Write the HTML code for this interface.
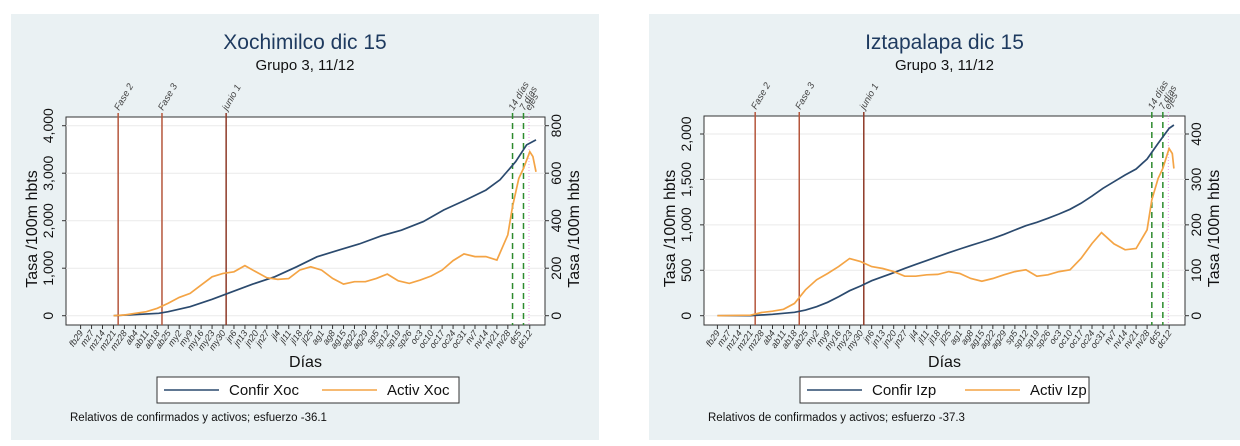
<!DOCTYPE html>
<html><head><meta charset="utf-8"><style>
html,body{margin:0;padding:0;background:#fff;width:1240px;height:446px;overflow:hidden;font-family:"Liberation Sans",sans-serif;}
svg text{font-family:"Liberation Sans",sans-serif;}
</style></head><body>
<svg id="chart" width="1240" height="446" viewBox="0 0 1240 446" xmlns="http://www.w3.org/2000/svg"></svg>
<script>
const tickLabels = ["fb29","mz7","mz14","mz21","mz28","ab4","ab11","ab18","ab25","my2","my9","my16","my23","my30","jn6","jn13","jn20","jn27","jl4","jl11","jl18","jl25","ag1","ag8","ag15","ag22","ag29","sp5","sp12","sp19","sp26","oc3","oc10","oc17","oc24","oc31","nv7","nv14","nv21","nv28","dc5","dc12"];

// Xochimilco
const xocConfDays = [21,50,56,70,84,97,110,124,138,151,165,178,192,205,219,232,246,259,268,278,285,291];
const xocConfVals = [0,50,85,190,345,505,665,820,1030,1240,1380,1510,1680,1800,1980,2225,2435,2645,2860,3245,3595,3700];
const xocActDays = [21,28,35,42,49,56,63,70,77,84,91,98,105,112,119,126,133,140,147,154,161,168,175,182,189,196,203,210,217,224,231,238,245,252,259,266,273,276,280,283,287,289,291];
const xocActVals = [0,3,10,17,31,52,77,94,129,164,178,185,211,185,160,153,156,192,206,192,157,133,143,143,157,175,147,136,150,167,192,232,260,249,249,234,340,459,578,620,690,670,606];
const xocLeftTicks = [0,1000,2000,3000,4000];
const xocLeftLabels = ["0","1,000","2,000","3,000","4,000"];
const xocRightTicks = [0,200,400,600,800];

// Iztapalapa
const izpConfDays = [0,21,35,49,56,63,70,77,84,91,98,105,112,119,126,133,140,147,154,161,168,175,182,189,196,203,210,217,224,231,238,245,252,259,266,273,280,287,290];
const izpConfVals = [0,0,15,37,62,99,147,209,275,327,385,429,473,521,565,606,650,694,734,774,811,851,895,943,991,1028,1072,1119,1171,1237,1317,1402,1475,1549,1615,1725,1897,2062,2099];
const izpActDays = [0,21,28,35,42,49,56,63,70,77,84,91,98,105,112,119,126,133,140,147,154,161,168,175,182,189,196,203,210,217,224,231,238,244,252,259,266,273,276,280,283,287,289,290];
const izpActVals = [0,1,7,10,14,27,57,79,93,108,126,119,108,104,97,87,87,90,91,97,93,82,76,82,90,97,101,87,90,97,101,126,159,183,158,145,148,189,255,302,324,368,357,324];
const izpLeftTicks = [0,500,1000,1500,2000];
const izpLeftLabels = ["0","500","1,000","1,500","2,000"];
const izpRightTicks = [0,100,200,300,400];

const events = [
  {name:"Fase 2", day:24, color:"#b5563c", dash:null},
  {name:"Fase 3", day:52, color:"#b5563c", dash:null},
  {name:"junio 1", day:93, color:"#8e3a28", dash:null},
  {name:"14 días", day:276, color:"#2e8b2e", dash:"6,4"},
  {name:"7 días", day:283, color:"#2e8b2e", dash:"6,4"},
  {name:"ejes", day:286.5, color:"#f0a0e8", dash:"1,2"}
];

const NS="http://www.w3.org/2000/svg";
const svg=document.getElementById('chart');
function mk(tag,attrs,parent){const e=document.createElementNS(NS,tag);for(const k in attrs)e.setAttribute(k,attrs[k]);(parent||svg).appendChild(e);return e;}

function panel(cfg){
  const g=mk('g',{});
  
  
  const bg=mk('rect',{x:cfg.px,y:14,width:cfg.pw,height:426,fill:"#eaf1f3"},g);
  
  
  const cx=cfg.px+cfg.pw/2;
  const t=mk('text',{x:cx,y:49,"text-anchor":"middle","font-size":"21","fill":"#1e3a5f"},g);t.textContent=cfg.title;
  
  
  const st=mk('text',{x:cx,y:70,"text-anchor":"middle","font-size":"15","fill":"#111"},g);st.textContent="Grupo 3,  11/12";
  
  
  const X=d=>cfg.x0+d*cfg.dx;
  const YL=v=>cfg.y0-(v/cfg.lmax)*(cfg.y0-cfg.ytop);
  const YR=v=>cfg.y0-(v/cfg.rmax)*(cfg.y0-cfg.ytop);
  const box=mk('rect',{x:cfg.bx1,y:cfg.by1,width:cfg.bx2-cfg.bx1,height:cfg.by2-cfg.by1,fill:"#fff",stroke:"#333","stroke-width":"1"},g);
  
  
  cfg.lt.forEach((v,i)=>{
    const y=YL(v);
    mk('line',{x1:cfg.bx1,x2:cfg.bx2,y1:y,y2:y,stroke:"#eaeaea","stroke-width":"1"},g);
    mk('line',{x1:cfg.bx1-4,x2:cfg.bx1,y1:y,y2:y,stroke:"#333"},g);
    const lx=cfg.bx1-13;
    const tl=mk('text',{x:lx,y:y,"font-size":"14","text-anchor":"middle",transform:`rotate(-90 ${lx} ${y})`,fill:"#111"},g);tl.textContent=cfg.ll[i];
    
    
  });
  cfg.rt.forEach(v=>{
    const y=YR(v);
    mk('line',{x1:cfg.bx2,x2:cfg.bx2+4,y1:y,y2:y,stroke:"#333"},g);
    const lx=cfg.bx2+16;
    const tl=mk('text',{x:lx,y:y,"font-size":"14","text-anchor":"middle",transform:`rotate(-90 ${lx} ${y})`,fill:"#111"},g);tl.textContent=String(v);
    
    
  });
  const ly=(cfg.by1+cfg.by2)/2+8;
  const a1=mk('text',{x:cfg.bx1-29,y:ly,"font-size":"16","text-anchor":"middle",transform:`rotate(-90 ${cfg.bx1-29} ${ly})`,fill:"#111"},g);a1.textContent="Tasa /100m hbts";
  
  
  const a2=mk('text',{x:cfg.bx2+34,y:ly,"font-size":"16","text-anchor":"middle",transform:`rotate(-90 ${cfg.bx2+34} ${ly})`,fill:"#111"},g);a2.textContent="Tasa /100m hbts";
  
  
  tickLabels.forEach((lab,i)=>{
    const x=X(i*7);
    mk('line',{x1:x,x2:x,y1:cfg.by2,y2:cfg.by2+4,stroke:"#333"},g);
    const tx=x+3,ty=cfg.by2+8;
    const tl=mk('text',{x:tx,y:ty,"font-size":"9","font-style":"italic","text-anchor":"end",transform:`rotate(-55 ${tx} ${ty})`,fill:"#333"},g);tl.textContent=lab;
    
    
  });
  const xt=mk('text',{x:(cfg.bx1+cfg.bx2)/2,y:367,"font-size":"16","text-anchor":"middle",fill:"#111"},g);xt.textContent="Días";
  
  
  events.forEach(ev=>{
    const x=X(ev.day);
    const ln=mk('line',{x1:x,x2:x,y1:cfg.by1-4,y2:cfg.by2,stroke:ev.color,"stroke-width":ev.dash==="1,2"?1:1.5},g);
    if(ev.dash) ln.setAttribute('stroke-dasharray',ev.dash);
    
    
    const ty=cfg.by1-6;
    const tl=mk('text',{x:x+1,y:ty,"font-size":"9.5","font-style":"italic",transform:`rotate(-60 ${x+1} ${ty})`,fill:"#444"},g);tl.textContent=ev.name;
    
    
  });
  const path=(days,vals,Y)=>days.map((d,i)=>(i?'L':'M')+X(d).toFixed(1)+','+Y(vals[i]).toFixed(1)).join(' ');
  const pc=mk('path',{d:path(cfg.cd,cfg.cv,YL),fill:"none",stroke:"#2b4a6e","stroke-width":"1.7"},g);
  
  
  const pa=mk('path',{d:path(cfg.ad,cfg.av,YR),fill:"none",stroke:"#f4a445","stroke-width":"1.7"},g);
  
  
  const lg=mk('g',{},g);
  
  
  mk('rect',{x:cfg.lgx,y:377,width:cfg.lgw,height:26,fill:"#fff",stroke:"#333"},lg);
  mk('line',{x1:cfg.lgx+7,x2:cfg.lgx+62,y1:390,y2:390,stroke:"#2b4a6e","stroke-width":"1.6"},lg);
  const l1=mk('text',{x:cfg.lgx+72,y:395,"font-size":"15",fill:"#111"},lg);l1.textContent=cfg.leg1;
  
  
  mk('line',{x1:cfg.lgx+165,x2:cfg.lgx+220,y1:390,y2:390,stroke:"#f4a445","stroke-width":"1.6"},lg);
  const l2=mk('text',{x:cfg.lgx+230,y:395,"font-size":"15",fill:"#111"},lg);l2.textContent=cfg.leg2;
  
  
  const nt=mk('text',{x:cfg.ntx,y:421,"font-size":"11.5",fill:"#111"},g);nt.textContent=cfg.note;
  
  
}

panel({id:"xochimilco",px:11,pw:588,title:"Xochimilco dic 15",bx1:66,bx2:545,by1:117,by2:325,
  x0:80.6,dx:1.565,y0:315.7,ytop:125.7,lmax:4000,rmax:800,lt:xocLeftTicks,ll:xocLeftLabels,rt:xocRightTicks,
  cd:xocConfDays,cv:xocConfVals,ad:xocActDays,av:xocActVals,lgx:157,lgw:302,leg1:"Confir Xoc",leg2:"Activ Xoc",ntx:70,
  note:"Relativos de confirmados y activos; esfuerzo -36.1"});
panel({id:"iztapalapa",px:649,pw:591,title:"Iztapalapa dic 15",bx1:704,bx2:1185,by1:116,by2:325,
  x0:717.4,dx:1.574,y0:315.7,ytop:134,lmax:2000,rmax:400,lt:izpLeftTicks,ll:izpLeftLabels,rt:izpRightTicks,
  cd:izpConfDays,cv:izpConfVals,ad:izpActDays,av:izpActVals,lgx:800,lgw:289,leg1:"Confir Izp",leg2:"Activ Izp",ntx:708,
  note:"Relativos de confirmados y activos; esfuerzo -37.3"});
</script>
</body></html>
